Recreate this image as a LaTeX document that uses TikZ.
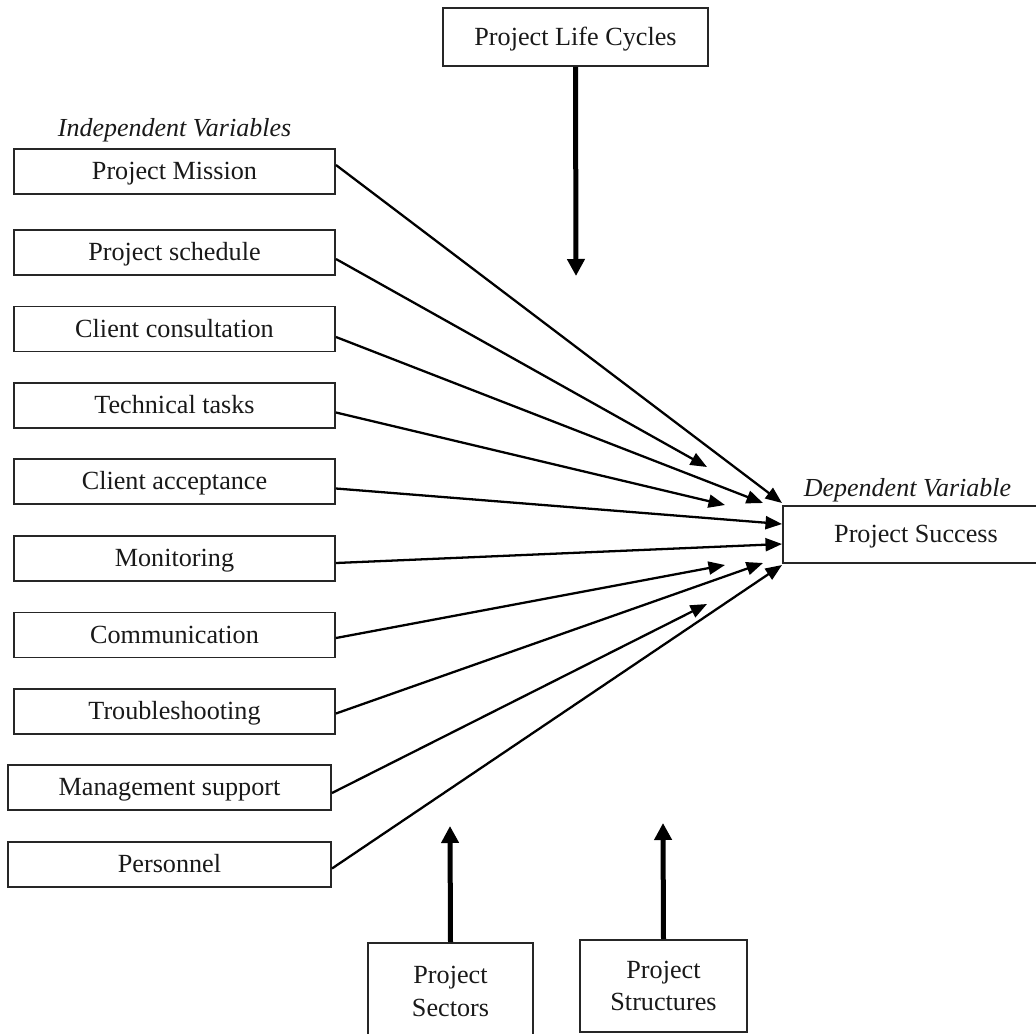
\documentclass[tikz,border=0pt]{standalone}
\usepackage{fontspec}
\setmainfont{Liberation Serif}
\usetikzlibrary{arrows.meta}
\begin{document}
\begin{tikzpicture}[x=1cm,y=-1cm,
  box/.style={draw=black!85, line width=0.55pt, inner sep=0pt, minimum height=4.5mm,
    font=\fontsize{7.45}{9.2}\selectfont, text=black!90},
  onebox/.style={box, text height=5.6pt, text depth=0.8pt},
  varbox/.style={onebox, minimum width=32.1mm},
  lbl/.style={font=\fontsize{7.4}{9}\selectfont\itshape, text=black!90, inner sep=0pt},
  link/.style={line width=0.65pt, -{Triangle[length=1.65mm,width=1.3mm]}},
  bigarrow/.style={line width=0.5mm, -{Triangle[length=1.7mm,width=1.7mm]}}]
\useasboundingbox (0,0) rectangle (10.36,10.33);
\clip (0,0) rectangle (10.36,10.33);
% independent variables
\node[lbl] (iv) at (1.745,1.3) {Independent Variables};
\node[varbox] (mis) at (1.745,1.715) {Project Mission};
\node[varbox] (sch) at (1.745,2.525) {Project schedule};
\node[varbox] (con) at (1.745,3.29) {Client consultation};
\node[varbox] (tec) at (1.745,4.055) {Technical tasks};
\node[varbox] (acc) at (1.745,4.815) {Client acceptance};
\node[varbox] (mon) at (1.745,5.585) {Monitoring};
\node[varbox] (com) at (1.745,6.35) {Communication};
\node[varbox] (tro) at (1.745,7.115) {Troubleshooting};
\node[onebox, minimum width=32.3mm] (man) at (1.695,7.875) {Management support};
\node[onebox, minimum width=32.3mm] (per) at (1.695,8.645) {Personnel};
% dependent variable
\node[lbl] (dv) at (9.075,4.9) {Dependent Variable};
\node[onebox, minimum width=26.6mm, minimum height=5.7mm] (suc) at (9.16,5.345) {Project Success};
% moderators
\node[onebox, minimum width=26.5mm, minimum height=5.8mm] (plc) at (5.755,0.37) {Project Life Cycles};
\node[box, align=center, minimum width=16.5mm, minimum height=9.7mm,
  font=\fontsize{7.45}{9.4}\selectfont] (sec) at (4.505,9.915) {Project\\Sectors};
\node[box, align=center, minimum width=16.7mm, minimum height=9.2mm,
  font=\fontsize{7.45}{8.9}\selectfont] (str) at (6.635,9.86) {Project\\Structures};
% free arrow ends
\coordinate (mis-e) at (7.82,5.03);
\coordinate (sch-e) at (7.07,4.67);
\coordinate (con-e) at (7.63,5.03);
\coordinate (tec-e) at (7.25,5.05);
\coordinate (acc-e) at (7.82,5.24);
\coordinate (mon-e) at (7.82,5.44);
\coordinate (com-e) at (7.25,5.65);
\coordinate (tro-e) at (7.63,5.63);
\coordinate (man-e) at (7.07,6.04);
\coordinate (per-e) at (7.82,5.65);
\coordinate (plc-e) at (5.76,2.76);
\coordinate (sec-e) at (4.50,8.26);
\coordinate (str-e) at (6.63,8.23);
% links
\draw[link] ([yshift=0.65mm]mis.east) -- (mis-e);
\draw[link] ([yshift=-0.65mm]sch.east) -- (sch-e);
\draw[link] ([yshift=-0.8mm]con.east) -- (con-e);
\draw[link] ([yshift=-0.7mm]tec.east) -- (tec-e);
\draw[link] ([yshift=-0.7mm]acc.east) -- (acc-e);
\draw[link] ([yshift=-0.45mm]mon.east) -- (mon-e);
\draw[link] ([yshift=-0.3mm]com.east) -- (com-e);
\draw[link] ([yshift=-0.2mm]tro.east) -- (tro-e);
\draw[link] ([yshift=-0.55mm]man.east) -- (man-e);
\draw[link] ([yshift=-0.4mm]per.east) -- (per-e);
\draw[bigarrow] (plc.south) -- (plc-e);
\draw[bigarrow] (sec.north) -- (sec-e);
\draw[bigarrow] (str.north) -- (str-e);
\end{tikzpicture}
\end{document}
